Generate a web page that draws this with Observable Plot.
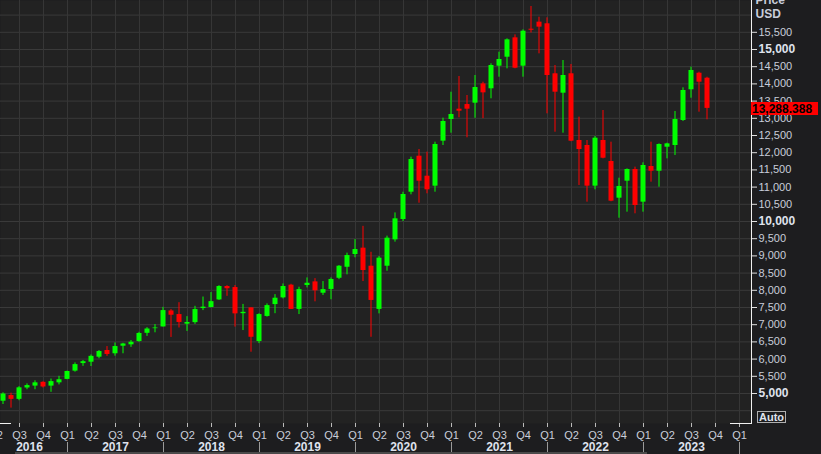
<!DOCTYPE html>
<html><head><meta charset="utf-8">
<script src="https://cdn.jsdelivr.net/npm/d3@7"></script>
<script src="https://cdn.jsdelivr.net/npm/@observablehq/plot@0.6"></script>
<style>
html,body{margin:0;padding:0;background:#1d1d1f;}
#chart{width:821px;height:454px;overflow:hidden;position:relative}
</style></head><body><div id="chart"></div>
<script>
// Monthly candles, May 2016 .. Sep 2023
const firstMonth = "2016-05";
const open  = [4775,4940,4830,5160,5215,5325,5215,5310, 5410,5650,5870,5910,6055,6250,6155,6375,6415,6510,6750,6885, 6935,7400,7295,7015,7060,7470,7500,7720,8110,8080,7320,7490, 6510,7240,7585,7780,8150,7445,8140,8245,7915,8025,8350,8670, 9040,9225,8700,7445,8700,9467,10058,10852,11898,11317,11027,12335, 12965,13265,13400,13440,14000,13858,14515,14776,15339,14515,15590,15795, 15747,14294,13730,14294,12355,12210,11028,12355,11744,10678,11172,11512, 10562,11599,11462,12160,12209,12936,13829,14311,14166];
const high  = [5020,5010,5200,5280,5370,5340,5420,5500, 5650,5890,5960,6120,6250,6365,6470,6460,6540,6780,6915,7005, 7505,7440,7640,7235,7535,7805,7935,8135,8135,8140,7590,7490, 7320,7605,7875,8185,8175,8090,8360,8340,8255,8360,8720,9080, 9475,9860,9105,8985,9575,10250,10850,11870,12093,12016,12306,13004, 13759,14215,13663,14244,14050,14584,14922,15310,15426,15572,16250,15940, 15921,14535,14680,14564,13033,12355,12471,13227,12306,11259,11530,11580, 11706,12306,12257,12277,13198,13887,14487,14341,14195];
const low   = [4680,4575,4790,5110,5110,5160,5035,5250, 5400,5620,5790,5785,6010,6080,6085,6155,6340,6490,6660,6765, 6935,6630,6905,6805,7010,7410,7490,7705,7825,6930,6830,6200, 6450,7220,7320,7750,7440,7295,8070,7665,7850,7725,8310,8450, 8945,8255,6635,7315,8555,9400,10000,10776,10532,10805,10852,12209, 12567,13015,12433,13000,12990,13567,14195,14438,14440,14195,15480,14874, 13131,12596,12567,12320,11047,10562,10921,11821,10575,10096,10271,10224, 10271,11143,10998,11822,11919,12907,13584,13178,12956];
const close = [4985,4830,5165,5230,5310,5190,5345,5400, 5640,5840,5925,6080,6220,6135,6365,6440,6490,6745,6875,6905, 7410,7275,7065,7065,7440,7510,7670,8110,8045,7315,7360,6635, 7295,7555,7770,8110,7445,8020,8205,7985,8020,8315,8700,9010, 9185,8575,7705,8935,9515,10078,10785,11802,11172,10921,12238,12907, 13110,13207,13265,13895,13740,14535,14709,15281,14457,15532,15560,15650, 14244,13759,14244,12335,12093,11028,12422,11840,10591,11018,11512,10465, 11628,11462,12238,12257,12965,13808,14390,14050,13288.388];
const lastPrice = 13288.388;
const yGrid = d3.range(4500, 16001, 500);
const yLabels = d3.range(5000, 15501, 500);
const yBold = [5000, 10000, 15000];
const quarterNames = ["Q1","Q2","Q3","Q4"];
const axisTitle = ["Price", "USD"];

const start = d3.utcParse("%Y-%m")(firstMonth);
const rows = close.map((c, i) => ({
  i, date: d3.utcMonth.offset(start, i),
  o: open[i], h: high[i], l: low[i], c, up: c >= open[i]
}));

// quarter ticks from Apr 2016 to Jan 2024
const quarters = d3.range(-1, rows.length + 4, 3).map(i => {
  const d = d3.utcMonth.offset(start, i);
  return {i, label: quarterNames[Math.floor(d.getUTCMonth() / 3)], year: d.getUTCFullYear(), month: d.getUTCMonth()};
});
const yearStarts = quarters.filter(q => q.month === 0).map(q => q.i);
const yearLabels = d3.range(2016, 2024).map(y => {
  const s = y === 2016 ? -1.5 : yearStarts[y - 2017];
  const e = yearStarts[y - 2016];
  return {year: String(y), mid: (s + e) / 2};
});

const xOpts = {type: "linear", domain: [0, 88], range: [3, 707]};
const yOpts = {type: "linear", domain: [5000, 15000], range: [393, 49]};
const yScale = Plot.scale({y: yOpts});

const GREEN = "#00ff00", RED = "#ff0000";
const TXT = "#c9cdda";
const FONT = "'Liberation Sans', Arial, sans-serif";
const col = d => d.up ? GREEN : RED;

const chart = Plot.plot({
  width: 821, height: 454,
  marginTop: 0, marginRight: 70, marginBottom: 31, marginLeft: 0,
  x: xOpts, y: yOpts,
  style: {background: "#1d1d1f", fontFamily: FONT, overflow: "hidden"},
  marks: [
    Plot.frame({fill: "#222222"}),
    Plot.ruleY(yGrid, {y: d => d, stroke: "#3a3a3a"}),
    Plot.ruleX(quarters, {x: "i", stroke: "#363636"}),
    // wicks
    Plot.rect(rows, {x1: d => d.i - 1/16, x2: d => d.i + 1/16, y1: "l", y2: "h", fill: col}),
    // bodies
    Plot.rect(rows, {x1: d => d.i - 0.3125, x2: d => d.i + 0.3125, y1: "o", y2: "c", fill: col}),
    // right axis
    Plot.frame({anchor: "right", stroke: "#f0f0f0"}),
    Plot.axisY(yLabels, {anchor: "right", tickSize: 5, tickPadding: 2, stroke: "#e0e0e0",
      tickFormat: d => yBold.includes(d) ? "" : d3.format(",")(d), fill: TXT, fontSize: 11, label: null}),
    Plot.axisY(yBold, {anchor: "right", tickSize: 5, tickPadding: 2, stroke: "#e0e0e0",
      tickFormat: d3.format(","), fill: "#dfe2ec", fontSize: 12, fontWeight: "bold", label: null}),
    Plot.text(axisTitle, {frameAnchor: "top-right", dx: 4, text: d => d,
      textAnchor: "start", lineAnchor: "bottom", fill: TXT, fontWeight: "bold", fontSize: 12}),
    // bottom axis
    Plot.axisX(quarters.map(q => q.i), {anchor: "bottom", tickSize: 4, tickPadding: 4, stroke: "#bbbbbb",
      tickFormat: i => quarters.find(q => q.i === i).label, fill: TXT, fontSize: 11, label: null}),
    Plot.text(yearLabels, {x: "mid", text: "year", frameAnchor: "bottom", dy: 24, lineAnchor: "middle",
      fill: "#dfe2ec", fontWeight: "bold", fontSize: 12}),
    Plot.ruleX(yearStarts, {x: d => d, y1: yScale.invert(442), y2: yScale.invert(455), stroke: "#9a9a9a"})
  ]
});

document.getElementById("chart").appendChild(chart);

const svg = d3.select(chart);
svg.selectAll("text").filter(function(){ return this.textContent === "Price" || this.textContent === "USD"; })
  .each(function(){ d3.select(this).attr("y", this.textContent === "USD" ? 17 : 3); });

const ys = chart.scale("y");
const yLast = Math.round(ys.apply(lastPrice));
const g = svg.append("g").attr("text-anchor", "start").attr("font-family", FONT);
g.append("rect").attr("x", 751).attr("y", yLast - 6).attr("width", 67).attr("height", 13).attr("fill", RED);
g.append("text").attr("x", 752).attr("y", yLast + 4.5).attr("text-anchor", "start")
  .attr("font-size", 12).attr("font-weight", "bold").attr("fill", "#000")
  .text(d3.format(",.3f")(lastPrice));

// Auto button
g.append("rect").attr("x", 757.5).attr("y", 411.5).attr("width", 28).attr("height", 11)
  .attr("fill", "none").attr("stroke", "#b0b0b0");
g.append("text").attr("x", 771.5).attr("y", 421).attr("text-anchor", "middle")
  .attr("font-size", 11).attr("font-weight", "bold").attr("fill", "#dfe2ec").text("Auto");

// range markers and scrollbar
g.append("line").attr("x1", 0).attr("x2", 11).attr("y1", 423.5).attr("y2", 423.5).attr("stroke", "#f0f0f0");
g.append("line").attr("x1", 730).attr("x2", 752).attr("y1", 423.5).attr("y2", 423.5).attr("stroke", "#f0f0f0");
g.append("rect").attr("x", 15).attr("y", 452).attr("width", 632).attr("height", 2).attr("fill", "#4a4a4a");
</script>
</body></html>
